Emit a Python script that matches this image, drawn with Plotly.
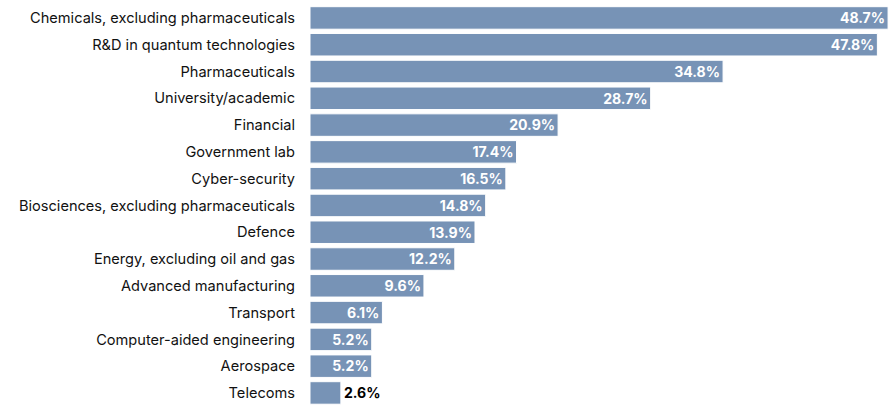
import plotly.graph_objects as go

categories = [
    "Chemicals, excluding pharmaceuticals",
    "R&D in quantum technologies",
    "Pharmaceuticals",
    "University/academic",
    "Financial",
    "Government lab",
    "Cyber-security",
    "Biosciences, excluding pharmaceuticals",
    "Defence",
    "Energy, excluding oil and gas",
    "Advanced manufacturing",
    "Transport",
    "Computer-aided engineering",
    "Aerospace",
    "Telecoms",
]
values = [48.7, 47.8, 34.8, 28.7, 20.9, 17.4, 16.5, 14.8, 13.9, 12.2, 9.6, 6.1, 5.2, 5.2, 2.6]

labels = [f"{v:.1f}%" for v in values]
positions = ["inside" if v > 4 else "outside" for v in values]
label_colors = ["white" if p == "inside" else "black" for p in positions]

fig = go.Figure(
    go.Bar(
        x=values,
        y=categories,
        orientation="h",
        marker=dict(color="#7793b6", line=dict(color="white", width=1)),
        width=0.84,
        text=labels,
        textposition=positions,
        insidetextanchor="end",
        textfont=dict(family="Inter, Arial, sans-serif", size=14.5, color=label_colors, weight="bold"),
        cliponaxis=False,
    )
)

fig.update_layout(
    width=894,
    height=405,
    margin=dict(l=310, r=0, t=0, b=0),
    plot_bgcolor="white",
    paper_bgcolor="white",
    showlegend=False,
    uniformtext=dict(minsize=14, mode="show"),
    font=dict(family="Inter, Arial, sans-serif", size=14, color="#111111"),
)
fig.update_xaxes(range=[0, 49.2], visible=False, fixedrange=True)
fig.update_yaxes(
    range=[14.45, -0.67],
    showgrid=False,
    showline=False,
    zeroline=False,
    ticks="",
    ticklabelstandoff=14,
    tickfont=dict(size=14.6, color="#111111"),
    fixedrange=True,
)

fig.write_html("out.html", config={"displayModeBar": False})
